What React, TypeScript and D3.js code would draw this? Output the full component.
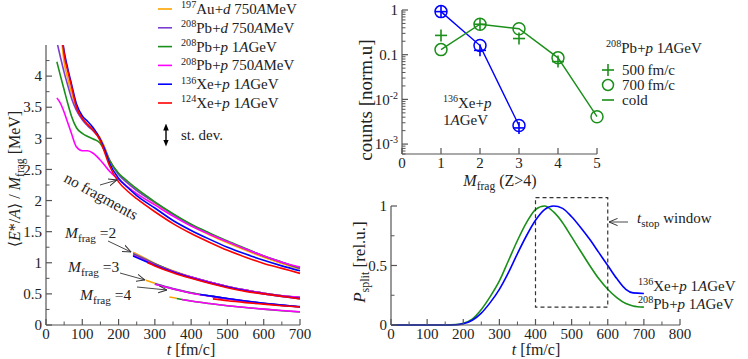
import React from "react";
import * as d3 from "d3";

const FONT = "'Liberation Serif', 'Times New Roman', Times, 'DejaVu Serif', serif";
const INK = "#222";
const AXIS = "#555";

const C_AU = "#ffa500";
const C_PBD = "#7a3fd0";
const C_PBP1 = "#1a8f1a";
const C_PBP750 = "#ff00ff";
const C_XE136 = "#0000ff";
const C_XE124 = "#ff0000";

// ---- left panel: <E*/A>/Mfrag vs t ----
const tNoFrag = [30, 40, 50, 60, 70, 84, 100, 115, 130, 148, 160, 175, 200, 225, 250, 300, 350, 400, 450, 500, 550, 600, 650, 700];
const auNoFrag = [5.2, 4.75, 4.22, 3.96, 3.74, 3.5, 3.32, 3.22, 3.14, 3.02, 2.88, 2.66, 2.43, 2.29, 2.17, 1.96, 1.77, 1.6, 1.45, 1.32, 1.2, 1.09, 0.99, 0.9];
const pbdNoFrag = [4.55, 4.3, 4.06, 3.85, 3.65, 3.45, 3.3, 3.2, 3.12, 3.0, 2.86, 2.65, 2.42, 2.28, 2.16, 1.97, 1.78, 1.61, 1.47, 1.34, 1.22, 1.11, 1.01, 0.91];
const pbp1NoFrag = [4.23, 4.0, 3.78, 3.56, 3.36, 3.17, 3.08, 3.03, 2.99, 2.93, 2.82, 2.64, 2.44, 2.31, 2.19, 1.98, 1.79, 1.62, 1.48, 1.35, 1.23, 1.11, 1.01, 0.92];
const pbp750NoFrag = [3.65, 3.56, 3.42, 3.25, 3.08, 2.86, 2.8, 2.8, 2.76, 2.66, 2.58, 2.47, 2.34, 2.22, 2.11, 1.93, 1.75, 1.59, 1.46, 1.34, 1.22, 1.11, 1.01, 0.93];
const xe136NoFrag = [5.5, 4.85, 4.4, 4.12, 3.88, 3.55, 3.36, 3.27, 3.17, 3.0, 2.84, 2.6, 2.36, 2.21, 2.08, 1.88, 1.68, 1.52, 1.38, 1.25, 1.14, 1.04, 0.95, 0.87];
const xe124NoFrag = [5.6, 4.9, 4.35, 4.08, 3.84, 3.5, 3.32, 3.22, 3.13, 2.98, 2.8, 2.56, 2.3, 2.15, 2.03, 1.82, 1.63, 1.47, 1.33, 1.2, 1.09, 0.99, 0.91, 0.83];

const tM2 = [240, 280, 300, 350, 400, 450, 500, 550, 600, 650, 700];
const auM2 = [1.17, 1.05, 0.99, 0.87, 0.77, 0.69, 0.62, 0.56, 0.51, 0.47, 0.44];
const pbdM2 = [1.15, 1.04, 0.985, 0.865, 0.77, 0.69, 0.62, 0.56, 0.51, 0.47, 0.44];
const pbp1M2 = [1.13, 1.03, 0.98, 0.86, 0.77, 0.69, 0.62, 0.56, 0.51, 0.47, 0.44];
const pbp750M2 = [1.12, 1.02, 0.97, 0.86, 0.77, 0.69, 0.62, 0.56, 0.51, 0.47, 0.445];
const xe136M2 = [1.11, 1.01, 0.96, 0.85, 0.76, 0.68, 0.61, 0.55, 0.5, 0.46, 0.425];
const xe124M2 = [null, 1.0, 0.95, 0.84, 0.75, 0.67, 0.6, 0.54, 0.5, 0.46, 0.42];

const tM3 = [275, 300, 350, 425, 460, 500, 550, 600, 650, 700];
const auM3 = [0.72, 0.67, null, null, null, null, null, null, null, null];
const pbdM3 = [null, 0.665, 0.585, 0.49, 0.46, 0.425, 0.385, 0.35, 0.32, 0.295];
const pbp1M3 = [null, 0.66, 0.58, 0.49, 0.46, 0.42, 0.38, 0.345, 0.315, 0.29];
const pbp750M3 = [null, 0.655, 0.58, 0.485, 0.455, 0.42, 0.38, 0.345, 0.315, 0.29];
const xe136M3 = [null, null, null, 0.49, 0.46, 0.425, 0.385, 0.35, 0.32, 0.293];
const xe124M3 = [null, null, null, null, 0.42, 0.39, 0.36, 0.335, 0.31, 0.29];

const tM4 = [340, 360, 375, 400, 450, 500, 550, 600, 650, 700];
const auM4 = [0.45, 0.43, null, null, null, null, null, null, null, null];
const pbp1M4 = [null, 0.425, 0.41, 0.385, 0.345, 0.31, 0.28, 0.255, 0.23, 0.21];
const pbp750M4 = [null, null, 0.41, 0.385, 0.345, 0.31, 0.28, 0.255, 0.232, 0.212];

const reactions = [
  { iso: "197", el: "Au", proj: "d", en: "750", unit: "MeV", color: C_AU, curves: [[tNoFrag, auNoFrag], [tM2, auM2], [tM3, auM3], [tM4, auM4]] },
  { iso: "208", el: "Pb", proj: "d", en: "750", unit: "MeV", color: C_PBD, curves: [[tNoFrag, pbdNoFrag], [tM2, pbdM2], [tM3, pbdM3]] },
  { iso: "208", el: "Pb", proj: "p", en: "1", unit: "GeV", color: C_PBP1, curves: [[tNoFrag, pbp1NoFrag], [tM2, pbp1M2], [tM3, pbp1M3], [tM4, pbp1M4]] },
  { iso: "208", el: "Pb", proj: "p", en: "750", unit: "MeV", color: C_PBP750, curves: [[tNoFrag, pbp750NoFrag], [tM2, pbp750M2], [tM3, pbp750M3], [tM4, pbp750M4]] },
  { iso: "136", el: "Xe", proj: "p", en: "1", unit: "GeV", color: C_XE136, curves: [[tNoFrag, xe136NoFrag], [tM2, xe136M2], [tM3, xe136M3]] },
  { iso: "124", el: "Xe", proj: "p", en: "1", unit: "GeV", color: C_XE124, curves: [[tNoFrag, xe124NoFrag], [tM2, xe124M2], [tM3, xe124M3]] },
];

// ---- top right: fragment multiplicity distributions ----
const mXe = [1, 2, 3];
const xe700 = [0.92, 0.16, 0.0026];
const xe500 = [0.92, 0.125, 0.0023];
const mPb700 = [1, 2, 3, 4, 5];
const pb700 = [0.13, 0.48, 0.38, 0.085, 0.0041];
const mPb500 = [1, 2, 3, 4];
const pb500 = [0.27, 0.48, 0.23, 0.07];

// ---- bottom right: splitting probability ----
const tSplit = [0, 50, 100, 150, 180, 200, 225, 250, 275, 300, 325, 350, 375, 400, 425, 450, 475, 500, 525, 550, 575, 600, 625, 650, 670, 700];
const pbSplit = [0, 0, 0, 0, 0.003, 0.015, 0.05, 0.13, 0.24, 0.37, 0.54, 0.71, 0.86, 0.97, 1.0, 0.95, 0.86, 0.74, 0.62, 0.5, 0.39, 0.3, 0.23, 0.18, 0.16, 0.15];
const xeSplit = [0, 0, 0, 0, 0.002, 0.01, 0.04, 0.1, 0.19, 0.3, 0.44, 0.6, 0.75, 0.88, 0.97, 1.0, 0.98, 0.91, 0.82, 0.72, 0.61, 0.5, 0.39, 0.3, 0.27, 0.265];
const stopWindow = { t0: 400, t1: 600, p0: 0.15, p1: 1.07 };

function path(xs: number[], ys: (number | null)[], sx: any, sy: any, curve = d3.curveMonotoneX) {
  const pts = xs.map((t, i) => [t, ys[i]] as [number, number | null]);
  return d3
    .line<[number, number | null]>()
    .defined((d) => d[1] != null)
    .x((d) => sx(d[0]))
    .y((d) => sy(d[1] as number))
    .curve(curve)(pts) || "";
}

function Reaction({ r, size = 15 }: any) {
  return (
    <>
      <tspan fontSize={size * 0.68} dy={-size * 0.38}>{r.iso}</tspan>
      <tspan dy={size * 0.38}>{r.el}+</tspan>
      <tspan fontStyle="italic">{r.proj}</tspan>
      <tspan> {r.en}</tspan>
      <tspan fontStyle="italic">A</tspan>
      <tspan>{r.unit}</tspan>
    </>
  );
}

function Mfrag({ size = 15 }: any) {
  return (
    <>
      <tspan fontStyle="italic">M</tspan>
      <tspan fontSize={size * 0.72} dy={size * 0.28}>frag</tspan>
      <tspan dy={-size * 0.28}> </tspan>
    </>
  );
}

function AxisY({ scale, x, majors, minors, labels, len = 6, mlen = 3.5 }: any) {
  const [r0, r1] = scale.range();
  return (
    <g>
      <line x1={x} x2={x} y1={r0} y2={r1} stroke={AXIS} strokeWidth={1.2} />
      {majors.map((v: number, i: number) => (
        <g key={"M" + i}>
          <line x1={x} x2={x + len} y1={scale(v)} y2={scale(v)} stroke={AXIS} strokeWidth={1.2} />
          <text x={x - 4} y={scale(v)} dy="0.35em" textAnchor="end" fontSize={15} fill={INK}>
            {labels[i]}
          </text>
        </g>
      ))}
      {minors.map((v: number, i: number) => (
        <line key={"m" + i} x1={x} x2={x + mlen} y1={scale(v)} y2={scale(v)} stroke={AXIS} strokeWidth={1} />
      ))}
    </g>
  );
}

function AxisX({ scale, y, majors, minors, labels, len = 6, mlen = 3.5 }: any) {
  const [r0, r1] = scale.range();
  return (
    <g>
      <line x1={r0} x2={r1} y1={y} y2={y} stroke={AXIS} strokeWidth={1.2} />
      {majors.map((v: number, i: number) => (
        <g key={"M" + i}>
          <line x1={scale(v)} x2={scale(v)} y1={y} y2={y - len} stroke={AXIS} strokeWidth={1.2} />
          <text x={scale(v)} y={y + 14} textAnchor="middle" fontSize={15} fill={INK}>
            {labels[i]}
          </text>
        </g>
      ))}
      {minors.map((v: number, i: number) => (
        <line key={"m" + i} x1={scale(v)} x2={scale(v)} y1={y} y2={y - mlen} stroke={AXIS} strokeWidth={1} />
      ))}
    </g>
  );
}

function LeftPanel() {
  const x = d3.scaleLinear().domain([0, 700]).range([46, 300]);
  const y = d3.scaleLinear().domain([0, 4.5]).range([325, 45]);
  const yMaj = d3.range(0, 4.01, 0.5);
  const yMin = d3.range(0.25, 4.5, 0.5);
  const xMaj = d3.range(0, 701, 100);
  const xMin = d3.range(50, 700, 100);
  return (
    <g>
      <clipPath id="clipL">
        <rect x={x(0)} y={y(4.5)} width={x(700) - x(0) + 2} height={y(0) - y(4.5)} />
      </clipPath>
      <g clipPath="url(#clipL)" fill="none" strokeWidth={1.6}>
        {reactions.map((r, i) =>
          r.curves.map((c: any, j: number) => (
            <path key={i + "-" + j} d={path(c[0], c[1], x, y)} stroke={r.color} />
          ))
        )}
      </g>
      <AxisY scale={y} x={x(0)} majors={yMaj} minors={yMin} labels={yMaj.map((v) => String(+v.toFixed(1)))} />
      <AxisX scale={x} y={y(0)} majors={xMaj} minors={xMin} labels={xMaj.map(String)} />
      <text transform="translate(20,179) rotate(-90)" textAnchor="middle" fontSize={16} fill={INK}>
        <tspan>⟨</tspan>
        <tspan fontStyle="italic">E</tspan>
        <tspan>*/</tspan>
        <tspan fontStyle="italic">A</tspan>
        <tspan>⟩ / </tspan>
        <Mfrag size={16} />
        <tspan>[MeV]</tspan>
      </text>
      <text x={191} y={355} textAnchor="middle" fontSize={16} fill={INK}>
        <tspan fontStyle="italic">t</tspan> [fm/c]
      </text>

      {/* legend */}
      {reactions.map((r, i) => (
        <g key={"lg" + i}>
          <line x1={158} x2={172} y1={9 + i * 18.8} y2={9 + i * 18.8} stroke={r.color} strokeWidth={1.6} />
          <text x={181} y={14 + i * 18.8} fontSize={15} fill={INK}>
            <Reaction r={r} />
          </text>
        </g>
      ))}
      <line x1={166} x2={166} y1={127} y2={143} stroke="#000" strokeWidth={1.4} markerStart="url(#tri)" markerEnd="url(#tri)" />
      <text x={181} y={140} fontSize={15} fill={INK}>st. dev.</text>

      {/* annotations */}
      <text transform="translate(63,181) rotate(29)" fontSize={15.5} fill={INK}>no fragments</text>
      <line x1={100} y1={185} x2={117} y2={180} stroke="#333" strokeWidth={0.9} markerEnd="url(#arr)" />
      <text x={65} y={238} fontSize={15.5} fill={INK}>
        <Mfrag size={15.5} />=2
      </text>
      <line x1={108} y1={241} x2={131} y2={252} stroke="#333" strokeWidth={0.9} markerEnd="url(#arr)" />
      <text x={68} y={272} fontSize={15.5} fill={INK}>
        <Mfrag size={15.5} />=3
      </text>
      <line x1={120} y1={273} x2={145} y2={280} stroke="#333" strokeWidth={0.9} markerEnd="url(#arr)" />
      <text x={80} y={300} fontSize={15.5} fill={INK}>
        <Mfrag size={15.5} />=4
      </text>
      <line x1={137} y1={287} x2={167} y2={290} stroke="#333" strokeWidth={0.9} markerEnd="url(#arr)" />
    </g>
  );
}

function Plus({ cx, cy, color, s = 6 }: any) {
  return (
    <g stroke={color} strokeWidth={1.6}>
      <line x1={cx - s} x2={cx + s} y1={cy} y2={cy} />
      <line x1={cx} x2={cx} y1={cy - s} y2={cy + s} />
    </g>
  );
}

function CountsPanel() {
  const x = d3.scaleLinear().domain([0, 5]).range([402, 597]);
  const y = d3.scaleLog().domain([6e-4, 1]).range([154, 10]);
  const yMaj = [1, 0.1, 0.01, 0.001];
  const yMin: number[] = [];
  [1e-4, 1e-3, 1e-2, 0.1].forEach((d) => d3.range(2, 10).forEach((k) => { const v = d * k; if (v >= 6e-4 && v < 1) yMin.push(v); }));
  const xMaj = [0, 1, 2, 3, 4, 5];
  const lin = (ms: number[], vs: number[]) => path(ms, vs, x, y, d3.curveLinear);
  const pow = (e: string) => (
    <>
      10<tspan fontSize={10} dy={-6}>{e}</tspan>
    </>
  );
  return (
    <g>
      <path d={lin(mXe, xe700)} fill="none" stroke={C_XE136} strokeWidth={1.4} />
      <path d={lin(mPb700, pb700)} fill="none" stroke={C_PBP1} strokeWidth={1.4} />
      {mXe.map((m, i) => (
        <g key={"x" + i}>
          <circle cx={x(m)} cy={y(xe700[i])} r={6} fill="none" stroke={C_XE136} strokeWidth={1.5} />
          <Plus cx={x(m)} cy={y(xe500[i])} color={C_XE136} />
        </g>
      ))}
      {mPb700.map((m, i) => (
        <circle key={"p" + i} cx={x(m)} cy={y(pb700[i])} r={6} fill="none" stroke={C_PBP1} strokeWidth={1.5} />
      ))}
      {mPb500.map((m, i) => (
        <Plus key={"q" + i} cx={x(m)} cy={y(pb500[i])} color={C_PBP1} />
      ))}
      <AxisY scale={y} x={x(0)} majors={yMaj} minors={yMin} labels={["1", "0.1", pow("-2"), pow("-3")]} len={6} mlen={3.5} />
      <AxisX scale={x} y={y(6e-4)} majors={xMaj} minors={[]} labels={xMaj.map(String)} len={6} />
      <text transform="translate(372,100) rotate(-90)" textAnchor="middle" fontSize={19} fill={INK}>counts [norm.u]</text>
      <text x={500} y={186} textAnchor="middle" fontSize={16} fill={INK}>
        <Mfrag size={16} />(Z&gt;4)
      </text>
      <text x={443} y={108} fontSize={15} fill={INK}>
        <tspan fontSize={10} dy={-6}>136</tspan>
        <tspan dy={6}>Xe+</tspan>
        <tspan fontStyle="italic">p</tspan>
      </text>
      <text x={443} y={125} fontSize={15} fill={INK}>
        1<tspan fontStyle="italic">A</tspan>GeV
      </text>
      <text x={606} y={53} fontSize={15} fill={INK}>
        <Reaction r={reactions[2]} />
      </text>
      <Plus cx={608} cy={70} color={C_PBP1} />
      <text x={622} y={75} fontSize={15} fill={INK}>500{"\u2009"}fm/c</text>
      <circle cx={608} cy={85} r={5.5} fill="none" stroke={C_PBP1} strokeWidth={1.5} />
      <text x={622} y={90} fontSize={15} fill={INK}>700{"\u2009"}fm/c</text>
      <line x1={602} x2={614} y1={100} y2={100} stroke={C_PBP1} strokeWidth={1.6} />
      <text x={622} y={105} fontSize={15} fill={INK}>cold</text>
    </g>
  );
}

function SplitPanel() {
  const x = d3.scaleLinear().domain([0, 800]).range([391, 680]);
  const y = d3.scaleLinear().domain([0, 1]).range([325, 206]);
  const xMaj = d3.range(0, 801, 100);
  const xMin = d3.range(50, 800, 100);
  return (
    <g>
      <path d={path(tSplit, pbSplit, x, y)} fill="none" stroke={C_PBP1} strokeWidth={1.6} />
      <path d={path(tSplit, xeSplit, x, y)} fill="none" stroke={C_XE136} strokeWidth={1.6} />
      <rect
        x={x(stopWindow.t0)}
        y={y(stopWindow.p1)}
        width={x(stopWindow.t1) - x(stopWindow.t0)}
        height={y(stopWindow.p0) - y(stopWindow.p1)}
        fill="none"
        stroke="#333"
        strokeWidth={1.2}
        strokeDasharray="4,3"
      />
      <AxisY scale={y} x={x(0)} majors={[0, 0.5, 1]} minors={[0.25, 0.75]} labels={["0", "0.5", "1"]} />
      <AxisX scale={x} y={y(0)} majors={xMaj} minors={xMin} labels={xMaj.map(String)} />
      <text transform="translate(365,262) rotate(-90)" textAnchor="middle" fontSize={17} fill={INK}>
        <tspan fontStyle="italic">P</tspan>
        <tspan fontSize={12} dy={4}>split</tspan>
        <tspan dy={-4}> [rel.u.]</tspan>
      </text>
      <text x={536} y={355} textAnchor="middle" fontSize={16} fill={INK}>
        <tspan fontStyle="italic">t</tspan> [fm/c]
      </text>
      <line x1={628} y1={222} x2={609} y2={222} stroke="#333" strokeWidth={0.9} markerEnd="url(#arr)" />
      <text x={637} y={223} fontSize={15} fill={INK}>
        <tspan fontStyle="italic">t</tspan>
        <tspan fontSize={11} dy={4}>stop</tspan>
        <tspan dy={-4}> window</tspan>
      </text>
      <text x={638} y={291} fontSize={15} fill={INK}>
        <Reaction r={reactions[4]} />
      </text>
      <text x={638} y={309} fontSize={15} fill={INK}>
        <Reaction r={reactions[2]} />
      </text>
    </g>
  );
}

export default function App() {
  return (
    <svg
      width={748}
      height={359}
      style={{ position: "absolute", left: 0, top: 0, background: "#fff", fontFamily: FONT }}
    >
      <defs>
        <marker id="arr" viewBox="0 0 10 10" refX={9.5} refY={5} markerWidth={9} markerHeight={9} markerUnits="userSpaceOnUse" orient="auto">
          <path d="M0,1 L9.5,5 L0,9" fill="none" stroke="#333" strokeWidth={1.1} />
        </marker>
        <marker id="tri" viewBox="0 0 10 10" refX={5} refY={5} markerWidth={7} markerHeight={7} markerUnits="userSpaceOnUse" orient="auto-start-reverse">
          <path d="M0,1 L10,5 L0,9 Z" fill="#000" />
        </marker>
      </defs>
      <LeftPanel />
      <CountsPanel />
      <SplitPanel />
    </svg>
  );
}
